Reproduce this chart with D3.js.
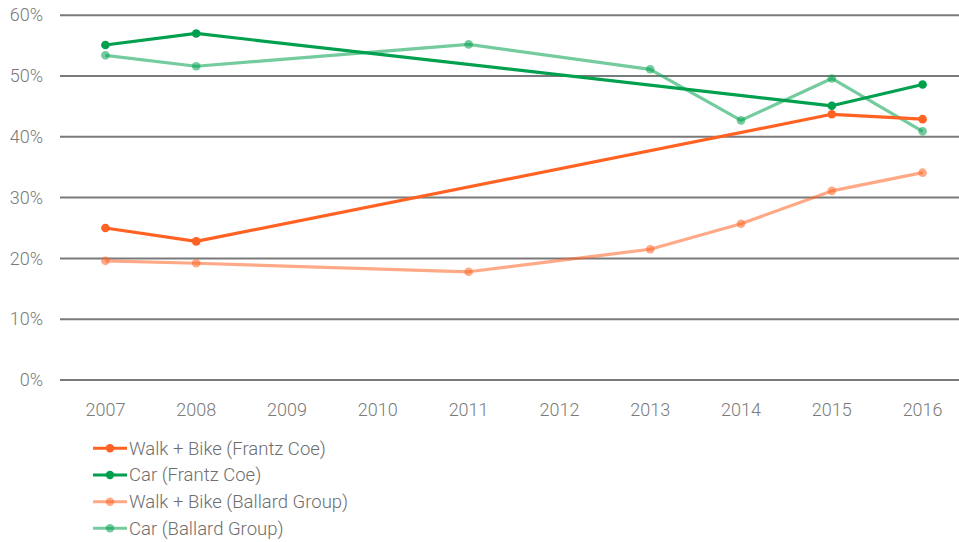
<!DOCTYPE html>
<html><head><meta charset="utf-8">
<script src="https://cdn.jsdelivr.net/npm/d3@7"></script>
<style>
html,body{margin:0;padding:0;background:#fff;}
svg{display:block;}
text{font-family:Roboto,"DejaVu Sans",sans-serif;}
</style></head>
<body><svg id="chart" width="959" height="542"></svg>
<script>
const years = ["2007","2008","2009","2010","2011","2012","2013","2014","2015","2016"];
const yTicks = [0,10,20,30,40,50,60];
const seriesNames = ["Walk + Bike (Frantz Coe)","Car (Frantz Coe)","Walk + Bike (Ballard Group)","Car (Ballard Group)"];
const walkBikeFrantz = [25.0, 22.8, null, null, null, null, null, null, 43.7, 42.9];
const carFrantz      = [55.1, 57.0, null, null, null, null, null, null, 45.1, 48.6];
const walkBikeBallard= [19.6, 19.2, null, null, 17.8, null, 21.5, 25.7, 31.1, 34.1];
const carBallard     = [53.4, 51.6, null, null, 55.2, null, 51.1, 42.7, 49.6, 40.9];

const seriesData = [walkBikeFrantz, carFrantz, walkBikeBallard, carBallard];
const colors = ["#ff6222","#00a04e","#ff6222","#00a04e"];
const opac = [1,1,0.55,0.55];

const svg = d3.select("#chart");
const x = d3.scaleBand().domain(years).range([60, 968]).padding(0);
const y = d3.scaleLinear().domain([0,60]).range([380, 15.2]);

// gridlines
svg.append("g").selectAll("line").data(yTicks).join("line")
  .attr("x1",60).attr("x2",959)
  .attr("y1",d=>y(d)).attr("y2",d=>y(d))
  .attr("stroke","#7a7a7a").attr("stroke-width",2);

// y axis labels
const yAxis = d3.axisLeft(y).tickValues(yTicks).tickFormat(d=>d+"%").tickSize(0).tickPadding(0);
const gy = svg.append("g").attr("transform","translate(43,0)").call(yAxis);
gy.select(".domain").remove();
gy.selectAll("text").attr("font-size",18).attr("fill","#7a7a7a").attr("font-family","Roboto,sans-serif").attr("font-weight",300);

// x axis labels
const xAxis = d3.axisBottom(x).tickSize(0).tickPadding(0);
const gx = svg.append("g").attr("transform","translate(0,403)").call(xAxis);
gx.select(".domain").remove();
gx.selectAll("text").attr("font-size",18).attr("fill","#7a7a7a").attr("font-family","Roboto,sans-serif").attr("font-weight",300);

const cx = i => x(years[i]) + x.bandwidth()/2;
const line = d3.line().x(d=>cx(d.i)).y(d=>y(d.v));

const order = [2,3,0,1];
order.forEach(s=>{
  const pts = seriesData[s].map((v,i)=>({i,v})).filter(d=>d.v!==null);
  const g = svg.append("g");
  g.append("path").datum(pts).attr("d",line)
    .attr("fill","none").attr("stroke",colors[s]).attr("stroke-width",3.2)
    .attr("stroke-opacity",opac[s]).attr("stroke-linejoin","round");
  g.selectAll("circle").data(pts).join("circle")
    .attr("cx",d=>cx(d.i)).attr("cy",d=>y(d.v)).attr("r",4.3)
    .attr("fill",colors[s]).attr("fill-opacity",opac[s]);
});

// legend
const legY = [448.3, 475, 501.7, 528.3];
const leg = svg.append("g").selectAll("g").data(seriesNames).join("g")
  .attr("transform",(d,i)=>`translate(93,${legY[i]})`);
leg.append("line").attr("x1",0).attr("x2",34).attr("y1",0).attr("y2",0)
  .attr("stroke",(d,i)=>colors[i]).attr("stroke-width",3).attr("stroke-opacity",(d,i)=>opac[i]);
leg.append("circle").attr("cx",17).attr("cy",0).attr("r",4.2)
  .attr("fill",(d,i)=>colors[i]).attr("fill-opacity",(d,i)=>opac[i]);
leg.append("text").attr("x",36).attr("y",0).attr("dy","0.35em")
  .attr("font-size",18.5).attr("fill","#6e6e6e").attr("font-weight",300).text(d=>d);
</script></body></html>
